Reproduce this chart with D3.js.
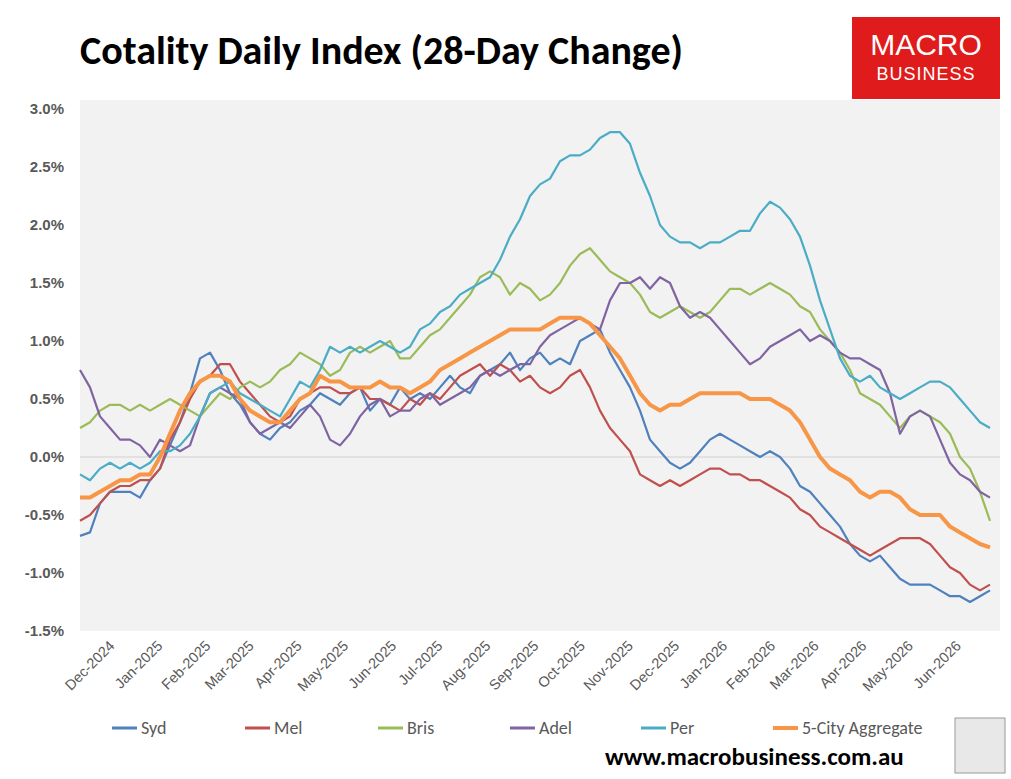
<!DOCTYPE html>
<html><head><meta charset="utf-8">
<script src="https://cdn.jsdelivr.net/npm/d3@7"></script>
<style>body{margin:0;background:#fff}svg{font-family:Calibri,"Liberation Sans",Arial,sans-serif}</style>
</head><body><svg id="c" width="1011" height="779"></svg>
<script>
const seriesNames=["Syd","Mel","Bris","Adel","Per","5-City Aggregate"];
const colors=["#4F81BD","#C0504D","#9BBB59","#8064A2","#4BACC6","#F79646"];
const yTicks=[-1.5,-1,-0.5,0,0.5,1,1.5,2,2.5,3];
const monthLabels=["Dec-2024","Jan-2025","Feb-2025","Mar-2025","Apr-2025","May-2025","Jun-2025","Jul-2025","Aug-2025","Sep-2025","Oct-2025","Nov-2025","Dec-2025","Jan-2026","Feb-2026","Mar-2026","Apr-2026","May-2026","Jun-2026"];
const syd=[-0.68,-0.65,-0.4,-0.3,-0.3,-0.3,-0.35,-0.2,-0.1,0.1,0.3,0.55,0.85,0.9,0.75,0.55,0.45,0.3,0.2,0.15,0.25,0.3,0.4,0.45,0.55,0.5,0.45,0.55,0.6,0.4,0.5,0.45,0.6,0.5,0.55,0.5,0.6,0.7,0.6,0.55,0.7,0.75,0.8,0.9,0.75,0.85,0.9,0.8,0.85,0.8,1.0,1.05,1.1,0.9,0.75,0.6,0.4,0.15,0.05,-0.05,-0.1,-0.05,0.05,0.15,0.2,0.15,0.1,0.05,0.0,0.05,0.0,-0.1,-0.25,-0.3,-0.4,-0.5,-0.6,-0.75,-0.85,-0.9,-0.85,-0.95,-1.05,-1.1,-1.1,-1.1,-1.15,-1.2,-1.2,-1.25,-1.2,-1.15];
const mel=[-0.55,-0.5,-0.4,-0.3,-0.25,-0.25,-0.2,-0.2,-0.1,0.15,0.3,0.5,0.65,0.7,0.8,0.8,0.65,0.55,0.45,0.35,0.3,0.35,0.5,0.55,0.6,0.6,0.55,0.55,0.6,0.5,0.5,0.45,0.4,0.5,0.45,0.55,0.5,0.6,0.7,0.75,0.8,0.7,0.8,0.75,0.65,0.7,0.6,0.55,0.6,0.7,0.75,0.6,0.4,0.25,0.15,0.05,-0.15,-0.2,-0.25,-0.2,-0.25,-0.2,-0.15,-0.1,-0.1,-0.15,-0.15,-0.2,-0.2,-0.25,-0.3,-0.35,-0.45,-0.5,-0.6,-0.65,-0.7,-0.75,-0.8,-0.85,-0.8,-0.75,-0.7,-0.7,-0.7,-0.75,-0.85,-0.95,-1.0,-1.1,-1.15,-1.1];
const bris=[0.25,0.3,0.4,0.45,0.45,0.4,0.45,0.4,0.45,0.5,0.45,0.4,0.35,0.45,0.55,0.5,0.6,0.65,0.6,0.65,0.75,0.8,0.9,0.85,0.8,0.7,0.75,0.9,0.95,0.9,0.95,1.0,0.85,0.85,0.95,1.05,1.1,1.2,1.3,1.4,1.55,1.6,1.55,1.4,1.5,1.45,1.35,1.4,1.5,1.65,1.75,1.8,1.7,1.6,1.55,1.5,1.4,1.25,1.2,1.25,1.3,1.25,1.2,1.25,1.35,1.45,1.45,1.4,1.45,1.5,1.45,1.4,1.3,1.25,1.1,1.0,0.9,0.75,0.55,0.5,0.45,0.35,0.25,0.35,0.4,0.35,0.3,0.2,0.0,-0.1,-0.3,-0.55];
const adel=[0.75,0.6,0.35,0.25,0.15,0.15,0.1,0.0,0.15,0.1,0.05,0.1,0.35,0.55,0.6,0.55,0.5,0.3,0.2,0.25,0.3,0.25,0.35,0.45,0.35,0.15,0.1,0.2,0.35,0.45,0.5,0.35,0.4,0.4,0.5,0.55,0.45,0.5,0.55,0.6,0.7,0.75,0.7,0.75,0.8,0.8,0.95,1.05,1.1,1.15,1.2,1.15,1.1,1.35,1.5,1.5,1.55,1.45,1.55,1.5,1.3,1.2,1.25,1.2,1.1,1.0,0.9,0.8,0.85,0.95,1.0,1.05,1.1,1.0,1.05,1.0,0.9,0.85,0.85,0.8,0.75,0.55,0.2,0.35,0.4,0.35,0.15,-0.05,-0.15,-0.2,-0.3,-0.35];
const per=[-0.15,-0.2,-0.1,-0.05,-0.1,-0.05,-0.1,-0.05,0.05,0.05,0.1,0.2,0.35,0.55,0.6,0.65,0.55,0.5,0.45,0.4,0.35,0.5,0.65,0.6,0.75,0.95,0.9,0.95,0.9,0.95,1.0,0.95,0.9,0.95,1.1,1.15,1.25,1.3,1.4,1.45,1.5,1.55,1.7,1.9,2.05,2.25,2.35,2.4,2.55,2.6,2.6,2.65,2.75,2.8,2.8,2.7,2.45,2.25,2.0,1.9,1.85,1.85,1.8,1.85,1.85,1.9,1.95,1.95,2.1,2.2,2.15,2.05,1.9,1.65,1.35,1.1,0.85,0.7,0.65,0.7,0.6,0.55,0.5,0.55,0.6,0.65,0.65,0.6,0.5,0.4,0.3,0.25];
const agg=[-0.35,-0.35,-0.3,-0.25,-0.2,-0.2,-0.15,-0.15,0.0,0.2,0.4,0.55,0.65,0.7,0.7,0.65,0.5,0.4,0.35,0.3,0.3,0.4,0.5,0.55,0.7,0.65,0.65,0.6,0.6,0.6,0.65,0.6,0.6,0.55,0.6,0.65,0.75,0.8,0.85,0.9,0.95,1.0,1.05,1.1,1.1,1.1,1.1,1.15,1.2,1.2,1.2,1.15,1.05,0.95,0.85,0.7,0.55,0.45,0.4,0.45,0.45,0.5,0.55,0.55,0.55,0.55,0.55,0.5,0.5,0.5,0.45,0.4,0.3,0.15,0.0,-0.1,-0.15,-0.2,-0.3,-0.35,-0.3,-0.3,-0.35,-0.45,-0.5,-0.5,-0.5,-0.6,-0.65,-0.7,-0.75,-0.78];
const allSeries=[syd,mel,bris,adel,per,agg];

const svg=d3.select("#c");
const L=80,R=1000,T=100,B=631;
const start=new Date(2024,10,16), end=new Date(2026,5,27);
const step=(end-start)/(syd.length-1);
const x=d3.scaleTime().domain([start,end]).range([80,990]);
const y=d3.scaleLinear().domain([-1.5,3]).range([631,109]);
svg.append("rect").attr("x",L).attr("y",T).attr("width",R-L).attr("height",B-T).attr("fill","#f2f2f2");
svg.append("line").attr("x1",L).attr("x2",R).attr("y1",y(0)).attr("y2",y(0)).attr("stroke","#d0d0d0");
const ya=svg.append("g").attr("transform",`translate(${L},0)`).call(d3.axisLeft(y).tickValues(yTicks).tickSize(0).tickFormat(d=>d.toFixed(1)+"%"));
ya.select(".domain").remove();
ya.selectAll("text").attr("x",-16).attr("font-size",15).attr("font-weight","bold").attr("fill","#595959");
const months=monthLabels.map((m,i)=>new Date(2024,11+i,1));
const xa=svg.append("g").attr("transform",`translate(0,${B})`).call(d3.axisBottom(x).tickValues(months).tickSize(0).tickFormat((d,i)=>monthLabels[i]));
xa.select(".domain").remove();
xa.selectAll("text").attr("font-size",14.5).attr("fill","#595959").attr("text-anchor","end").attr("transform","translate(6,10) rotate(-45)").attr("dy","0.35em");
const line=d3.line().x((d,i)=>x(new Date(+start+i*step))).y(d=>y(d));
allSeries.forEach((s,k)=>{
 svg.append("path").datum(s).attr("d",line).attr("fill","none").attr("stroke",colors[k]).attr("stroke-width",k==5?4:2.2).attr("stroke-linejoin","round");
});
svg.append("text").attr("x",80).attr("y",64).attr("font-size",40).attr("font-weight","bold").attr("fill","#000").text("Cotality Daily Index (28-Day Change)");
svg.append("rect").attr("x",852).attr("y",17).attr("width",148).attr("height",82).attr("fill","#e01b1b");
svg.append("text").attr("x",926).attr("y",55).attr("text-anchor","middle").attr("font-size",30).attr("fill","#fff").attr("font-family","Liberation Sans,Arial").text("MACRO");
svg.append("text").attr("x",926).attr("y",80).attr("text-anchor","middle").attr("font-size",18).attr("fill","#fff").attr("letter-spacing",1).attr("font-family","Liberation Sans,Arial").text("BUSINESS");
const lx=[112,245,378,510,641,773];
seriesNames.forEach((n,k)=>{
 svg.append("line").attr("x1",lx[k]).attr("x2",lx[k]+25).attr("y1",728).attr("y2",728).attr("stroke",colors[k]).attr("stroke-width",k==5?4:3);
 svg.append("text").attr("x",lx[k]+29).attr("y",734).attr("font-size",18).attr("fill","#595959").text(n);
});
svg.append("text").attr("x",605).attr("y",765).attr("font-size",25).attr("font-weight","bold").attr("fill","#000").text("www.macrobusiness.com.au");
svg.append("rect").attr("x",955).attr("y",718).attr("width",50).attr("height",55).attr("fill","#e8e8e8").attr("stroke","#999");
</script></body></html>
